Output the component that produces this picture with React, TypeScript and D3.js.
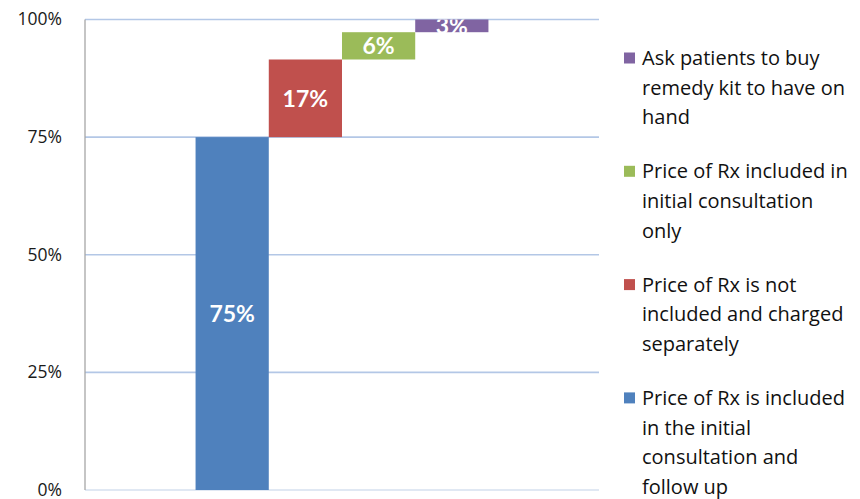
import { useRef, useEffect } from 'react';
import * as d3 from 'd3';

const SERIES = [
  'Price of Rx is included in the initial consultation and follow up',
  'Price of Rx is not included and charged separately',
  'Price of Rx included in initial consultation only',
  'Ask patients to buy remedy kit to have on hand',
];
const VALUES = [75, 16.5, 5.8, 2.7];
const LABELS = ['75%', '17%', '6%', '3%'];
const COLORS = ['#4F81BD', '#C0504D', '#9BBB59', '#8064A2'];
const Y_TICKS = [0, 25, 50, 75, 100];

// legend is listed top-down in reverse series order, wrapped like the original
const LEGEND_LINES = [
  ['Ask patients to buy', 'remedy kit to have on', 'hand'],
  ['Price of Rx included in', 'initial consultation', 'only'],
  ['Price of Rx is not', 'included and charged', 'separately'],
  ['Price of Rx is included', 'in the initial', 'consultation and', 'follow up'],
];
const LEGEND_SERIES = [3, 2, 1, 0];

const W = 860;
const H = 499;
const FONT = '"Open Sans", Lato, sans-serif';
const LABEL_FONT = 'Lato, "Open Sans", sans-serif';

export default function App() {
  const ref = useRef<SVGSVGElement>(null);

  useEffect(() => {
    const svg = d3.select(ref.current);
    svg.selectAll('*').remove();

    const m = { top: 19.5, right: 261, bottom: 9, left: 85 };
    const x = d3.scaleBand<number>()
      .domain(d3.range(SERIES.length))
      .range([m.left, W - m.right])
      .paddingInner(0)
      .paddingOuter(1.51);
    const y = d3.scaleLinear().domain([0, 100]).range([H - m.bottom, m.top]);

    // waterfall: each bar starts where the previous one ended
    const starts = VALUES.map((_, i) => d3.sum(VALUES.slice(0, i)));

    svg.append('defs').append('clipPath').attr('id', 'plot-clip')
      .append('rect')
      .attr('x', m.left).attr('y', y(100))
      .attr('width', W - m.right - m.left).attr('height', y(0) - y(100));

    // ── gridlines ───────────────────────────────────────────
    svg.append('g').selectAll('line').data(Y_TICKS).join('line')
      .attr('x1', m.left).attr('x2', W - m.right)
      .attr('y1', d => y(d)).attr('y2', d => y(d))
      .attr('stroke', d => (d === 0 ? '#D6E1EF' : '#B3C7E6'))
      .attr('stroke-width', 1.6);

    // ── y axis ──────────────────────────────────────────────
    svg.append('line')
      .attr('x1', m.left).attr('x2', m.left)
      .attr('y1', y(100)).attr('y2', y(0))
      .attr('stroke', '#A6A6A6').attr('stroke-width', 1.3);

    svg.append('g').selectAll('text').data(Y_TICKS).join('text')
      .attr('x', 62).attr('y', d => y(d)).attr('dy', '0.33em')
      .attr('text-anchor', 'end')
      .attr('font-family', FONT).attr('font-size', 17.5).attr('fill', '#1a1a1a')
      .text(d => `${d}%`);

    // ── bars ────────────────────────────────────────────────
    svg.append('g').selectAll('rect').data(VALUES).join('rect')
      .attr('x', (_, i) => x(i)!)
      .attr('width', x.bandwidth())
      .attr('y', (d, i) => y(starts[i] + d))
      .attr('height', d => y(0) - y(d))
      .attr('fill', (_, i) => COLORS[i]);

    // ── bar labels (clipped to plot, like the 3% one) ───────
    svg.append('g').attr('clip-path', 'url(#plot-clip)')
      .selectAll('text').data(VALUES).join('text')
      .attr('x', (_, i) => x(i)! + x.bandwidth() / 2)
      .attr('y', (d, i) => y(starts[i] + d / 2))
      .attr('dy', '0.36em')
      .attr('text-anchor', 'middle')
      .attr('font-family', LABEL_FONT).attr('font-weight', 700).attr('font-size', 23)
      .attr('fill', '#ffffff')
      .text((_, i) => LABELS[i]);

    // ── legend ──────────────────────────────────────────────
    const lh = 29.6;
    const gap = 24.5;
    const lx = 642;
    let ly = 58;
    const leg = svg.append('g');
    LEGEND_LINES.forEach((lines, k) => {
      const si = LEGEND_SERIES[k];
      leg.append('rect')
        .attr('x', 624).attr('y', ly - 5.5)
        .attr('width', 11).attr('height', 11)
        .attr('fill', COLORS[si]);
      lines.forEach((t, j) => {
        leg.append('text')
          .attr('x', lx).attr('y', ly + j * lh).attr('dy', '0.35em')
          .attr('font-family', FONT).attr('font-size', 20).attr('fill', '#111')
          .text(t);
      });
      ly += lines.length * lh + gap;
    });
  }, []);

  return (
    <svg
      ref={ref}
      width={W}
      height={H}
      style={{ position: 'absolute', left: 0, top: 0, background: '#fff' }}
    />
  );
}
